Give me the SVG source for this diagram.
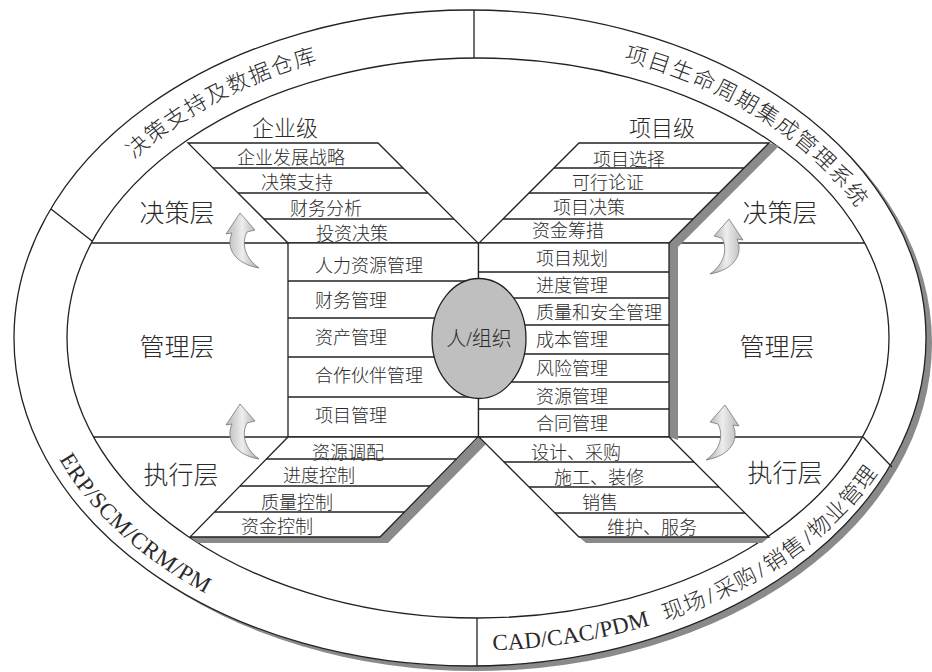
<svg xmlns="http://www.w3.org/2000/svg" width="932" height="672" viewBox="0 0 932 672">
<defs>
<style>
.ln{fill:none;stroke:#222;stroke-width:1.3}
.bx{fill:#fff;stroke:#222;stroke-width:1.3}
.sh{fill:#8a8a8a}
.t{font-family:"Liberation Serif","Noto Sans CJK SC",serif;fill:#2a2a2a;font-weight:300}
.r{font-size:18px}
.lay{font-size:25px;text-anchor:middle}
.lv{font-size:22px;text-anchor:middle}
.c{text-anchor:middle}
.rc text{font-size:22px;text-anchor:middle;dominant-baseline:central}
.rl text{font-size:23px}
.arr{fill:url(#ag);stroke:#777;stroke-width:0.8}
</style>
<linearGradient id="ag" x1="0" y1="0" x2="1" y2="0">
<stop offset="0" stop-color="#b8b8b8"/>
<stop offset="0.5" stop-color="#ededed"/>
<stop offset="1" stop-color="#a8a8a8"/>
</linearGradient>
<path id="arrow" d="M33 55 C10 51 -1 36 6 20 L0 21 L14 0 L29 17 L21 19 C15 31 19 45 33 55 Z"/>
</defs>
<rect width="932" height="672" fill="#fff"/>

<g id="ring">
<ellipse cx="476" cy="343" rx="456" ry="328" fill="#8a8a8a"/>
<ellipse cx="470" cy="338" rx="456" ry="328" class="bx"/>
<ellipse cx="478" cy="338" rx="411" ry="280" class="bx"/>
<line x1="474" y1="10" x2="474" y2="58" class="ln"/>
<line x1="477" y1="618" x2="477" y2="666" class="ln"/>
<line x1="51" y1="209" x2="92" y2="241" class="ln"/>
<line x1="863" y1="437" x2="892" y2="467" class="ln"/>
</g>

<g id="ring-labels" class="t rc">
<g id="label-dss">
<text transform="translate(137.6,146.3) rotate(-40.8)">决</text>
<text transform="translate(156.2,131.3) rotate(-37.1)">策</text>
<text transform="translate(175.4,117.6) rotate(-33.7)">支</text>
<text transform="translate(195.6,105.0) rotate(-30.4)">持</text>
<text transform="translate(216.5,93.4) rotate(-27.4)">及</text>
<text transform="translate(237.8,83.1) rotate(-24.5)">数</text>
<text transform="translate(259.8,73.7) rotate(-21.7)">据</text>
<text transform="translate(282.0,65.4) rotate(-19.1)">仓</text>
<text transform="translate(304.7,58.1) rotate(-16.6)">库</text>
</g>
<g id="label-plm">
<text transform="translate(636.4,56.1) rotate(15.8)">项</text>
<text transform="translate(659.3,63.2) rotate(18.35)">目</text>
<text transform="translate(681.9,71.2) rotate(20.97)">生</text>
<text transform="translate(704.1,80.4) rotate(23.71)">命</text>
<text transform="translate(725.9,90.6) rotate(26.59)">周</text>
<text transform="translate(747.0,101.9) rotate(29.62)">期</text>
<text transform="translate(767.6,114.3) rotate(32.84)">集</text>
<text transform="translate(787.4,128.0) rotate(36.27)">成</text>
<text transform="translate(806.1,142.6) rotate(39.9)">管</text>
<text transform="translate(824.0,158.6) rotate(43.81)">理</text>
<text transform="translate(840.8,175.9) rotate(48.06)">系</text>
<text transform="translate(856.1,194.4) rotate(52.6)">统</text>
</g>
<g id="label-erp" class="rl">
<text transform="translate(69.0,461.0) rotate(58.45)">E</text>
<text transform="translate(77.1,473.7) rotate(55.35)">R</text>
<text transform="translate(85.7,485.4) rotate(52.5)">P</text>
<text transform="translate(91.7,493.0) rotate(50.67)">/</text>
<text transform="translate(98.0,500.5) rotate(48.85)">S</text>
<text transform="translate(107.7,511.1) rotate(46.3)">C</text>
<text transform="translate(120.5,523.9) rotate(43.24)">M</text>
<text transform="translate(130.7,533.2) rotate(41.02)">/</text>
<text transform="translate(139.0,540.2) rotate(39.32)">C</text>
<text transform="translate(151.2,549.9) rotate(36.99)">R</text>
<text transform="translate(166.1,560.7) rotate(34.36)">M</text>
<text transform="translate(177.4,568.1) rotate(32.52)">/</text>
<text transform="translate(185.9,573.4) rotate(31.18)">P</text>
<text transform="translate(200.3,581.9) rotate(29.03)">M</text>
</g>
<g id="label-cad">
<g class="rl">
<text transform="translate(500.1,642.5) rotate(-2.36)">C</text>
<text transform="translate(516.0,641.6) rotate(-3.8)">A</text>
<text transform="translate(532.5,640.3) rotate(-5.31)">D</text>
<text transform="translate(543.9,639.1) rotate(-6.36)">/</text>
<text transform="translate(554.7,637.9) rotate(-7.36)">C</text>
<text transform="translate(570.5,635.6) rotate(-8.86)">A</text>
<text transform="translate(586.2,632.9) rotate(-10.36)">C</text>
<text transform="translate(596.9,630.9) rotate(-11.4)">/</text>
<text transform="translate(606.2,628.9) rotate(-12.32)">P</text>
<text transform="translate(620.4,625.6) rotate(-13.75)">D</text>
<text transform="translate(638.3,620.9) rotate(-15.59)">M</text>
</g>
<text transform="translate(673.1,610.0) rotate(-19.37)">现</text>
<text transform="translate(694.3,602.0) rotate(-21.85)">场</text>
<text transform="translate(710.0,595.4) rotate(-23.77)">/</text>
<text transform="translate(725.4,588.3) rotate(-25.77)">采</text>
<text transform="translate(745.7,577.9) rotate(-28.55)">购</text>
<text transform="translate(760.3,569.6) rotate(-30.7)">/</text>
<text transform="translate(774.8,560.6) rotate(-33.0)">销</text>
<text transform="translate(793.5,547.7) rotate(-36.21)">售</text>
<text transform="translate(807.1,537.3) rotate(-38.77)">/</text>
<text transform="translate(819.6,526.8) rotate(-41.35)">物</text>
<text transform="translate(836.0,511.3) rotate(-45.1)">业</text>
<text transform="translate(851.4,494.8) rotate(-49.15)">管</text>
<text transform="translate(865.3,477.4) rotate(-53.45)">理</text>
</g>
</g>

<g id="layer-lines">
<line x1="91.4" y1="243" x2="864.6" y2="243" class="ln"/>
<line x1="93.5" y1="437" x2="862.5" y2="437" class="ln"/>
</g>

<g id="layer-labels" class="t lay">
<text x="177" y="222">决策层</text>
<text x="177" y="356">管理层</text>
<text x="181" y="484">执行层</text>
<text x="780" y="222">决策层</text>
<text x="777" y="356">管理层</text>
<text x="785" y="482">执行层</text>
</g>

<g id="shadows">
<polygon class="sh" points="769,143 779,146 678,247 678,440 669,437 669,243"/>
<polygon class="sh" points="479,437 490,440 388,543 198,543 190,537 380,537"/>
<polygon class="sh" points="579,537 586,543 762,543 769,537"/>
</g>

<g id="enterprise-decision">
<text class="t lv" x="285" y="136">企业级</text>
<polygon class="bx" points="188,143 378,143 478,243 288,243"/>
<line class="ln" x1="213" y1="168" x2="403" y2="168"/>
<line class="ln" x1="238" y1="193" x2="428" y2="193"/>
<line class="ln" x1="264" y1="219" x2="454" y2="219"/>
<g class="t r c">
<text x="291" y="163.7">企业发展战略</text>
<text x="297" y="188.7">决策支持</text>
<text x="326" y="214.7">财务分析</text>
<text x="352" y="239.7">投资决策</text>
</g>
</g>

<g id="project-decision">
<text class="t lv" x="662" y="136">项目级</text>
<polygon class="bx" points="579,143 769,143 669,243 479,243"/>
<line class="ln" x1="554" y1="168" x2="744" y2="168"/>
<line class="ln" x1="529" y1="193" x2="719" y2="193"/>
<line class="ln" x1="503" y1="219" x2="693" y2="219"/>
<g class="t r c">
<text x="629" y="165.7">项目选择</text>
<text x="608" y="188.7">可行论证</text>
<text x="589" y="213.7">项目决策</text>
<text x="568" y="236.7">资金筹措</text>
</g>
</g>

<g id="enterprise-management">
<rect class="bx" x="288" y="243" width="190.5" height="194"/>
<line class="ln" x1="288" y1="281" x2="478" y2="281"/>
<line class="ln" x1="288" y1="318" x2="478" y2="318"/>
<line class="ln" x1="288" y1="357" x2="478" y2="357"/>
<line class="ln" x1="288" y1="397" x2="478" y2="397"/>
<g class="t r">
<text x="315" y="271.7">人力资源管理</text>
<text x="315" y="306.7">财务管理</text>
<text x="315" y="343.7">资产管理</text>
<text x="315" y="381.7">合作伙伴管理</text>
<text x="315" y="421.7">项目管理</text>
</g>
</g>

<g id="project-management">
<rect class="bx" x="478.5" y="243" width="190.5" height="194"/>
<line class="ln" x1="479" y1="272" x2="669" y2="272"/>
<line class="ln" x1="479" y1="298" x2="669" y2="298"/>
<line class="ln" x1="479" y1="325" x2="669" y2="325"/>
<line class="ln" x1="479" y1="354" x2="669" y2="354"/>
<line class="ln" x1="479" y1="382" x2="669" y2="382"/>
<line class="ln" x1="479" y1="409" x2="669" y2="409"/>
<g class="t r">
<text x="536" y="264.7">项目规划</text>
<text x="536" y="291.7">进度管理</text>
<text x="536" y="318.7">质量和安全管理</text>
<text x="536" y="345.7">成本管理</text>
<text x="536" y="374.7">风险管理</text>
<text x="536" y="402.7">资源管理</text>
<text x="536" y="429.7">合同管理</text>
</g>
</g>

<g id="enterprise-execution">
<polygon class="bx" points="288,437 478,437 380,537 190,537"/>
<line class="ln" x1="266.4" y1="459" x2="456.4" y2="459"/>
<line class="ln" x1="240" y1="486" x2="430" y2="486"/>
<line class="ln" x1="214.5" y1="512" x2="404.5" y2="512"/>
<g class="t r c">
<text x="348" y="458.7">资源调配</text>
<text x="319" y="481.7">进度控制</text>
<text x="297" y="508.7">质量控制</text>
<text x="277" y="532.7">资金控制</text>
</g>
</g>

<g id="project-execution">
<polygon class="bx" points="479,437 669,437 769,537 579,537"/>
<line class="ln" x1="504" y1="462" x2="694" y2="462"/>
<line class="ln" x1="529" y1="487" x2="719" y2="487"/>
<line class="ln" x1="555" y1="513" x2="745" y2="513"/>
<g class="t r c">
<text x="576" y="458.7">设计、采购</text>
<text x="599" y="483.7">施工、装修</text>
<text x="600" y="508.7">销售</text>
<text x="652" y="533.7">维护、服务</text>
</g>
</g>

<g id="people">
<ellipse cx="479" cy="338.5" rx="47" ry="60" fill="#bfbfbf" stroke="#222" stroke-width="1.3"/>
<text class="t c" x="479" y="346" font-size="20">人/组织</text>
</g>

<g id="arrows">
<use href="#arrow" class="arr" transform="translate(226,213)"/>
<use href="#arrow" class="arr" transform="translate(226,404)"/>
<use href="#arrow" class="arr" transform="translate(743,219) scale(-1,1)"/>
<use href="#arrow" class="arr" transform="translate(739,405) scale(-1,1)"/>
</g>
</svg>
